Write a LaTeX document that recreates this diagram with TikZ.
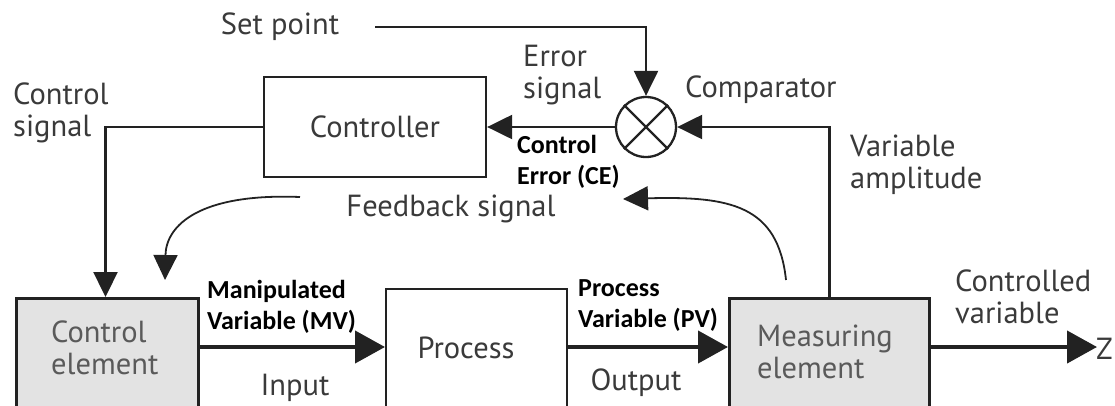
\documentclass[tikz,border=0pt]{standalone}
\usepackage{fontspec}
\setmainfont{PT Sans}
\newfontfamily\boldlab{Carlito}
\usetikzlibrary{arrows.meta,calc}
\definecolor{ln}{HTML}{222222}
\definecolor{tx}{HTML}{3A3A3A}
\definecolor{bx}{HTML}{5A5A5A}
\begin{document}
\begin{tikzpicture}[x=1pt,y=-1pt,
  lab/.style={text=tx,font=\fontsize{30.5}{32}\selectfont,inner sep=0pt,align=left},
  blab/.style={text=black,font=\boldlab\bfseries\fontsize{26}{31}\selectfont,inner sep=0pt,align=left},
  blk/.style={draw=ln,line width=2.3pt,inner sep=0pt},
  gblk/.style={draw=ln,line width=3pt,fill=gray!22,inner sep=0pt},
  conn/.style={draw=ln,line width=2.3pt},
  thick conn/.style={draw=ln,line width=4.2pt},
  tip/.style={-{Triangle[length=25pt,width=24pt]}},
  ttip/.style={-{Triangle[length=30pt,width=32pt]}}
]
\useasboundingbox (0,0) rectangle (1115,405);
\clip (0,0) rectangle (1115,405);

% blocks
\node[blk,minimum width=222pt,minimum height=100pt] (ctrl) at (375,127) {};
\node[lab,anchor=center] (ctrltx) at (ctrl.center) {Controller};
\node[draw=ln,line width=2.3pt,circle,minimum size=60pt,inner sep=0pt] (comp) at (646,127) {};
\draw[conn] (comp.45) -- (comp.225) (comp.135) -- (comp.315);
\node[gblk,minimum width=182pt,minimum height=160pt,anchor=north west] (ce) at (15,297) {};
\node[blk,minimum width=181pt,minimum height=160pt,anchor=north west] (proc) at (385,288) {};
\node[gblk,minimum width=200pt,minimum height=160pt,anchor=north west] (meas) at (728,297) {};

\coordinate (mvy) at (0,347);
\coordinate (sp) at (375,27);
\coordinate (zend) at (1097,347);

% texts
\node[lab] (setpt) at (280,27) {Set point};
\node[lab,anchor=west] (csig) at (13,113) {Control\\signal};
\node[lab,anchor=west] (esig) at (523,75) {Error\\signal};
\node[lab,anchor=west] (comptx) at (685,90) {Comparator};
\node[blab,anchor=west] (cetx) at (517,162) {Control\\Error (CE)};
\node[lab,anchor=west] (vamp) at (850,165) {Variable\\amplitude};
\node[lab] (fbtx) at (451,209) {Feedback signal};
\node[blab,anchor=west] (mvtx) at (207,307) {Manipulated\\Variable (MV)};
\node[lab] (intx) at (295,388) {Input};
\node[lab] (proctx) at (466,348) {Process};
\node[blab,anchor=west] (pvtx) at (578,306) {Process\\Variable (PV)};
\node[lab] (outtx) at (636,383) {Output};
\node[lab,anchor=west,text=bx] (meastx) at (757,352) {Measuring\\element};
\node[lab,anchor=west,text=bx] (cetx2) at (51,348) {Control\\element};
\node[lab,anchor=west] (cvtx) at (955,297) {Controlled\\variable};
\node[lab,anchor=west] (ztx) at (1096,349) {Z};

% connectors
\draw[conn,tip] (sp) -| (comp.north);
\draw[conn,tip] (comp.west) -- (ctrl.east);
\draw[conn,tip] (ctrl.west) -| ($(ce.north)+(-2,0)$);
\draw[conn,tip] (meas.north) |- (comp.east);
\draw[thick conn,ttip] (ce.east |- mvy) -- (proc.west |- mvy);
\draw[thick conn,ttip] (proc.east |- mvy) -- (meas.west |- mvy);
\draw[thick conn,ttip] (meas.east |- mvy) -- (zend);

% feedback curves
\coordinate (fa) at (786,280);
\coordinate (fb) at (623,199);
\coordinate (fc) at (300,197);
\coordinate (fd) at (165,280);
\draw[draw=ln,line width=1.8pt,tip] (fa) .. controls (778,205) and (730,196) .. (fb);
\draw[draw=ln,line width=1.8pt,tip] (fc) .. controls (200,193) and (166,225) .. (fd);
\end{tikzpicture}
\end{document}
